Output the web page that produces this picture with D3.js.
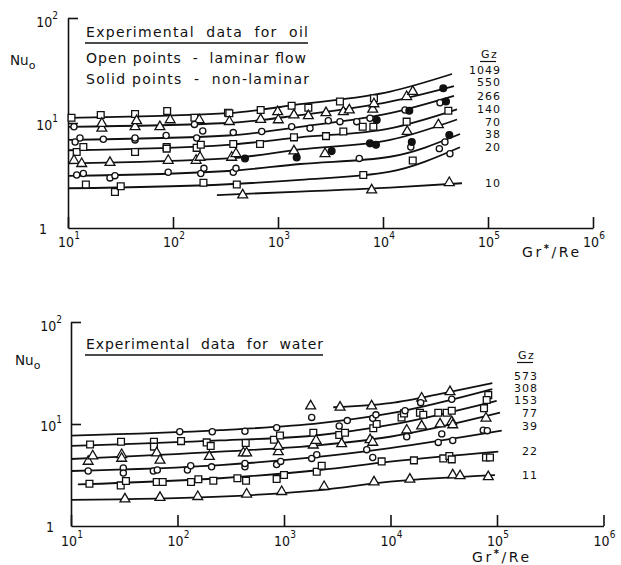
<!DOCTYPE html>
<html>
<head>
<meta charset="utf-8">
<script src="https://cdn.jsdelivr.net/npm/d3@7"></script>
<style>
  body { margin: 0; background: #fff; }
  svg { display: block; }
  text { fill: #111; }
</style>
</head>
<body>
<script>
// ---- data: oil (top chart) ----
const oilGz = ["1049", "550", "266", "140", "70", "38", "20", "10"];
// fitted lines, one per Gz, [Gr*/Re, Nu0]
const oilCurves = [
  [[10, 11.2], [334, 12.4], [1620, 15.1], [11700, 19.9], [45400, 29.3]],
  [[10, 9.2], [334, 10.0], [1620, 11.9], [11700, 16.0], [47400, 22.5]],
  [[10, 6.9], [334, 7.6], [1620, 9.2], [11700, 12.4], [47400, 18.1]],
  [[10, 5.5], [334, 6.2], [1620, 7.3], [11700, 8.9], [50700, 13.5]],
  [[10, 4.13], [334, 4.6], [1620, 5.6], [11700, 6.9], [50700, 10.8]],
  [[10, 3.13], [334, 3.49], [1620, 4.07], [11700, 4.77], [54100, 7.85]],
  [[10, 2.39], [334, 2.61], [1620, 2.87], [11700, 3.44], [54100, 5.87]],
  [[262, 2.06], [1620, 2.22], [11700, 2.42], [56500, 2.67]]
];
const oilSquares = [
  [10.8, 11.2], [20.5, 11.9], [43.5, 12.2], [88, 13], [160, 11.2], [334, 12.5], [344, 12.4],
  [684, 13.3], [1349, 14.6], [1945, 14], [3890, 16], [8200, 17.2],
  [12.1, 5.3], [14, 5.9], [43.5, 5.3], [87, 5.9], [87, 5.7], [168, 5.8], [184, 6.2], [375, 6.3],
  [674, 6.3], [1419, 7.3], [2865, 7.5], [4190, 8.3], [6410, 9.2], [8090, 9.2], [16800, 10.3], [41900, 13.1],
  [14.8, 2.6], [28, 2.2], [31.8, 2.5], [195, 2.7], [405, 2.6], [6490, 3.2], [19200, 4.4]
];
const oilTriangles = [
  [16800, 17.8], [19200, 19.9],
  [21, 8.9], [21, 9.9], [43.5, 9.2], [45, 10.5], [75, 9.2], [94, 10.7], [178, 10.7], [344, 10.3],
  [684, 10.8], [993, 12.8], [1007, 10.7], [1419, 11.9], [1945, 11.7], [2865, 12.5], [4190, 12.8],
  [4777, 13.3], [7980, 13.5], [8200, 15.2],
  [11.4, 4.4], [13.5, 4.1], [25.1, 4.2], [90, 4.4], [166, 4.4], [181, 4.7], [362, 4.7], [398, 5.1],
  [1419, 5.4], [2805, 5.1], [17000, 8.3], [33700, 9.6],
  [461, 2.06], [7800, 2.3], [42800, 2.7]
];
const oilCircles = [
  [11.4, 9.2], [160, 9.7],
  [11.7, 6.6], [13, 7.2], [21.7, 7], [43.5, 6.9], [43.5, 7.2], [86, 7.6], [168, 7.2], [192, 8.4],
  [375, 8.1], [700, 8.3], [1349, 9.2], [2018, 8.9], [3013, 10.5], [3890, 10.3], [5623, 10.3],
  [7516, 11.1], [16200, 13.3], [34900, 15.6],
  [12.1, 3.2], [14, 3.3], [25.1, 3.0], [28, 3.15], [90, 3.4], [184, 3.3], [197, 3.7], [375, 3.4],
  [398, 3.7], [5943, 4.6], [18400, 5.9], [34400, 5.7], [38900, 6.6],
  [43400, 5.1]
];
// solid points = non-laminar
const oilSolid = [
  [8710, 10.7], [17800, 13.1], [39800, 16], [37500, 21.4],
  [485, 4.6], [1507, 4.7], [3243, 5.4], [7516, 6.4], [8570, 6.2],
  [18800, 6.6], [42800, 7.7]
];

// ---- data: water (bottom chart) ----
const waterGz = ["573", "308", "153", "77", "39", "22", "11"];
const waterCurves = [
  [[2900, 14.6], [9890, 16], [36200, 20.7], [90400, 25.1]],
  [[10, 7.7], [251, 8.7], [2180, 10.2], [9890, 12.7], [90400, 22]],
  [[10, 6.1], [251, 6.9], [2180, 7.8], [9890, 9.8], [99300, 16.9]],
  [[10, 4.54], [251, 5.35], [2180, 6.2], [9890, 7.5], [106700, 12.9]],
  [[10, 3.46], [251, 3.96], [2180, 4.78], [9890, 5.8], [110700, 8.6]],
  [[11.6, 2.56], [251, 2.94], [2180, 3.54], [9890, 4.27], [102800, 5.35]],
  [[10, 1.80], [251, 1.94], [2180, 2.25], [9890, 2.72], [95700, 3.16]]
];
const waterSquares = [
  [82800, 19.2], [80000, 17.2],
  [15.1, 6.3], [29.5, 6.7], [60.1, 6.7], [60.1, 6.0], [108, 6.8], [188, 6.6], [205, 6.1], [437, 6.5],
  [805, 7.0], [917, 7.7], [1885, 8.2], [3300, 7.8], [3740, 8.2], [6890, 9.1], [7410, 10], [12700, 11.6],
  [13400, 12.7], [18900, 12.9], [20300, 12.3], [28100, 12.9], [33700, 12.9], [37600, 13.5], [75500, 14.3],
  [14.9, 2.6], [29.3, 2.5], [32.8, 2.76], [63.8, 2.7], [72.6, 2.7], [134, 2.7], [157, 2.87], [217, 2.78],
  [365, 2.94], [440, 2.78], [853, 2.89], [1000, 3.16], [2030, 3.4], [2260, 3.9], [8260, 4.3], [16600, 4.4],
  [31300, 4.6], [35700, 4.86], [37600, 4.5], [78800, 4.7], [85900, 4.7]
];
const waterTriangles = [
  [3360, 14.6], [6650, 15], [19600, 17.9], [36200, 20.7], [1780, 15],
  [14.5, 4.3], [16, 4.86], [29.9, 5.0], [29.9, 4.6], [63.8, 5.2], [68.5, 4.4], [199, 4.8], [415, 5.2],
  [446, 5.2], [884, 5.35], [884, 6.0], [1885, 6.2], [2000, 6.9], [3480, 6.4], [6430, 7.0], [6810, 6.6],
  [14200, 8.7], [19600, 9.55], [29200, 10], [37600, 10.5], [38400, 9.8], [78800, 11.4],
  [32.1, 1.84], [68.5, 1.9], [155, 1.94], [446, 2.05], [951, 2.17], [2380, 2.43], [7000, 2.7],
  [15200, 2.87], [38400, 3.16], [45000, 3.1], [82800, 3.04]
];
const waterCircles = [
  [105, 8.4], [212, 8.4], [430, 8.5], [853, 9.2], [3300, 9.55], [3930, 10.8], [6810, 11.4], [7300, 12.3],
  [13700, 13.5], [19200, 16.2], [37600, 17.5], [1820, 11.6],
  [14.5, 3.46], [31, 3.7], [31, 3.3], [59.3, 3.46], [64.6, 3.54], [124, 3.54], [133, 3.9], [209, 3.8],
  [430, 3.8], [430, 4.1], [853, 4.0], [931, 4.3], [1820, 4.6], [2030, 5.0], [5980, 5.6], [6810, 4.7],
  [14200, 7.5], [30300, 8.0], [28100, 6.6], [38400, 6.9], [74300, 8.7], [81100, 8.6]
];

const xTicks = [1e1, 1e2, 1e3, 1e4, 1e5, 1e6];
const xTickExp = ["1", "2", "3", "4", "5", "6"];

// ---- drawing ----
const svg = d3.select("body").append("svg")
  .attr("width", 621)
  .attr("height", 565)
  .style("font-family", "'DejaVu Sans', sans-serif");

const tickFont = "'Liberation Sans Narrow', 'DejaVu Sans Condensed', sans-serif";

function powLabel(g, x, y, exp, anchor) {
  const t = g.append("text")
    .attr("x", x).attr("y", y)
    .attr("text-anchor", anchor)
    .attr("font-family", tickFont)
    .attr("font-size", 14);
  t.append("tspan").text(exp === null ? "1" : "10");
  if (exp !== null) t.append("tspan").attr("dy", -8).attr("font-size", 10).text(exp);
}

function drawPanel(p) {
  const x = d3.scaleLog().domain([10, 1e6]).range(p.xRange);
  const y = d3.scaleLog().domain([1, 100]).range(p.yRange);
  const g = svg.append("g");

  // axes, ticks point inwards
  g.append("g")
    .attr("transform", `translate(0,${p.yRange[0]})`)
    .call(d3.axisBottom(x).tickValues(xTicks).tickSize(-11).tickSizeOuter(0).tickFormat(""));
  g.append("g")
    .attr("transform", `translate(${p.xRange[0]},0)`)
    .call(d3.axisLeft(y).tickValues([10, 100]).tickSize(-10).tickSizeOuter(0).tickFormat(""));
  g.selectAll(".domain, .tick line").attr("stroke", "#111").attr("stroke-width", 1.6);

  xTicks.forEach((v, i) => powLabel(g, x(v) + 1, p.xLabelY, xTickExp[i], "middle"));
  powLabel(g, p.yLabelX, y(100) + 8.5, "2", "end");
  powLabel(g, p.yLabelX, y(10) + 6.5, "1", "end");
  powLabel(g, p.oneX, y(1) + 6, null, "middle");

  // fitted lines
  const line = d3.line()
    .x(d => x(d[0]))
    .y(d => y(d[1]))
    .curve(d3.curveMonotoneX);
  g.selectAll("path.fit")
    .data(p.curves)
    .join("path")
    .attr("class", "fit")
    .attr("d", line)
    .attr("fill", "none")
    .attr("stroke", "#111")
    .attr("stroke-width", 1.8);

  // points
  const marks = [
    [p.squares, d3.symbolSquare, 46, "#fff"],
    [p.triangles, d3.symbolTriangle, 42, "#fff"],
    [p.circles, d3.symbolCircle, 30, "#fff"],
    [p.solid || [], d3.symbolCircle, 36, "#111"]
  ];
  marks.forEach(([data, type, size, fill]) => {
    g.append("g").selectAll("path")
      .data(data)
      .join("path")
      .attr("transform", d => `translate(${x(d[0])},${y(d[1])})`)
      .attr("d", d3.symbol(type, size))
      .attr("fill", fill)
      .attr("stroke", "#111")
      .attr("stroke-width", 1.3);
  });

  // Nu0 label
  const nu = g.append("text")
    .attr("x", p.nuPos[0]).attr("y", p.nuPos[1])
    .attr("font-size", 13.5);
  nu.append("tspan").text("Nu");
  nu.append("tspan").attr("dy", 4).attr("font-size", 11).text("o");

  // Gr*/Re label
  const gr = g.append("text")
    .attr("x", p.grPos[0]).attr("y", p.grPos[1])
    .attr("font-size", 14)
    .attr("textLength", 57)
    .attr("lengthAdjust", "spacing");
  gr.append("tspan").text("Gr");
  gr.append("tspan").attr("dy", -5).attr("font-size", 10).attr("font-weight", "bold").text("*");
  gr.append("tspan").attr("dy", 5).text("/Re");

  // notes
  p.notes.forEach((n, i) => {
    g.append("text")
      .attr("x", 86).attr("y", n.y)
      .attr("font-size", 14)
      .attr("textLength", n.w)
      .attr("lengthAdjust", "spacing")
      .style("white-space", "pre")
      .text(n.text);
    if (i === 0) {
      g.append("line")
        .attr("x1", 85).attr("x2", 86 + n.w)
        .attr("y1", n.y + 6).attr("y2", n.y + 6)
        .attr("stroke", "#111").attr("stroke-width", 1.3);
    }
  });

  // Gz column
  g.append("text")
    .attr("x", p.gzX - 20).attr("y", p.gzHeadY)
    .attr("font-size", 11).attr("letter-spacing", 1.5)
    .text("Gz");
  g.append("line")
    .attr("x1", p.gzX - 21).attr("x2", p.gzX - 5)
    .attr("y1", p.gzHeadY + 3.5).attr("y2", p.gzHeadY + 3.5)
    .attr("stroke", "#111").attr("stroke-width", 1.2);
  g.selectAll("text.gz")
    .data(p.gz)
    .join("text")
    .attr("class", "gz")
    .attr("x", p.gzX)
    .attr("y", (d, i) => p.gzY[i])
    .attr("text-anchor", "end")
    .attr("font-size", 11)
    .attr("letter-spacing", 1)
    .text(d => d);
}

drawPanel({
  xRange: [68, 593], yRange: [228, 18],
  curves: oilCurves, squares: oilSquares, triangles: oilTriangles, circles: oilCircles, solid: oilSolid,
  xLabelY: 247, yLabelX: 58, oneX: 43,
  nuPos: [10, 65], grPos: [522, 257],
  notes: [
    { text: "Experimental  data  for  oil", y: 37, w: 222 },
    { text: "Open points  -  laminar flow", y: 63, w: 220 },
    { text: "Solid points  -  non-laminar", y: 84, w: 223 }
  ],
  gz: oilGz, gzX: 501, gzHeadY: 58,
  gzY: [73.5, 86, 100, 113, 126, 138, 151, 187]
});

drawPanel({
  xRange: [71, 603.5], yRange: [526, 322],
  curves: waterCurves, squares: waterSquares, triangles: waterTriangles, circles: waterCircles,
  xLabelY: 546, yLabelX: 62, oneX: 50,
  nuPos: [15, 365], grPos: [472, 562],
  notes: [
    { text: "Experimental  data  for  water", y: 349, w: 237 }
  ],
  gz: waterGz, gzX: 538, gzHeadY: 359,
  gzY: [379.5, 392, 404, 417, 429.5, 455, 478.5]
});
</script>
</body>
</html>
